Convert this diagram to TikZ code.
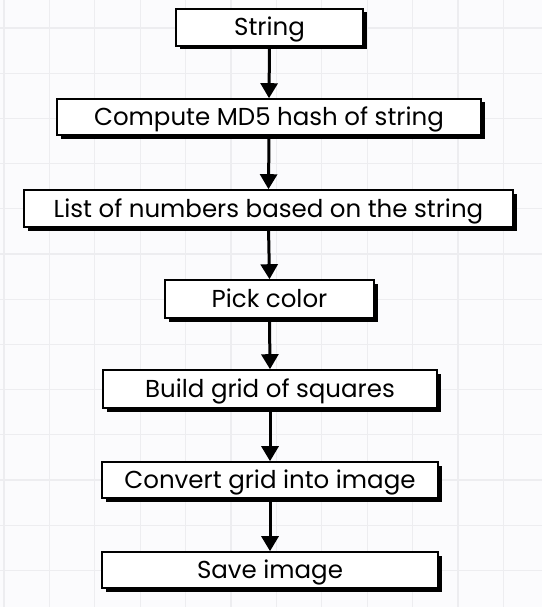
\documentclass[tikz,border=0pt]{standalone}
\usepackage{fontspec}
\setmainfont{Poppins}
\usetikzlibrary{arrows.meta,shadows}
\definecolor{bgc}{HTML}{FBFBFD}
\definecolor{gridc}{HTML}{EDEDF0}
\tikzset{
  stepbox/.style={draw=black, line width=1.6pt, fill=white, inner sep=0pt,
    minimum height=37pt, font=\fontsize{24.5}{28}\selectfont,
    text height=17pt, text depth=0pt,
    drop shadow={shadow xshift=3.5pt, shadow yshift=-3.5pt, fill=black, opacity=1}},
  flow/.style={line width=3pt, -{Triangle[width=17pt,length=15pt]}}
}
\begin{document}
\begin{tikzpicture}[x=1pt,y=-1pt]
\fill[bgc] (0,0) rectangle (542,607);
\useasboundingbox (0,0) rectangle (542,607);
\foreach \i in {0,...,11} {\draw[gridc, line width=1.2pt] ({4+45.4*\i},0) -- ({4+45.4*\i},607);}
\foreach \j in {0,...,13} {\draw[gridc, line width=1.2pt] (0,{28+45.2*\j}) -- (542,{28+45.2*\j});}
\node[stepbox, minimum width=187pt] (s1) at (269.5,27.5) {String};
\node[stepbox, minimum width=424pt, minimum height=36pt] (s2) at (269,117) {Compute MD5 hash of string};
\node[stepbox, minimum width=489pt] (s3) at (268.5,208.5) {List of numbers based on the string};
\node[stepbox, minimum width=209pt, minimum height=38pt] (s4) at (269.5,299) {Pick color};
\node[stepbox, minimum width=334pt, minimum height=38pt] (s5) at (270,389) {Build grid of squares};
\node[stepbox, minimum width=336pt, minimum height=36pt] (s6) at (270,480) {Convert grid into image};
\node[stepbox, minimum width=336pt, minimum height=36pt] (s7) at (270,570) {Save image};
\draw[flow] (s1.south) -- (s2.north);
\draw[flow] (s2.south) -- (s3.north);
\draw[flow] (s3.south) -- (s4.north);
\draw[flow] (s4.south) -- (s5.north);
\draw[flow] (s5.south) -- (s6.north);
\draw[flow] (s6.south) -- (s7.north);
\end{tikzpicture}
\end{document}
